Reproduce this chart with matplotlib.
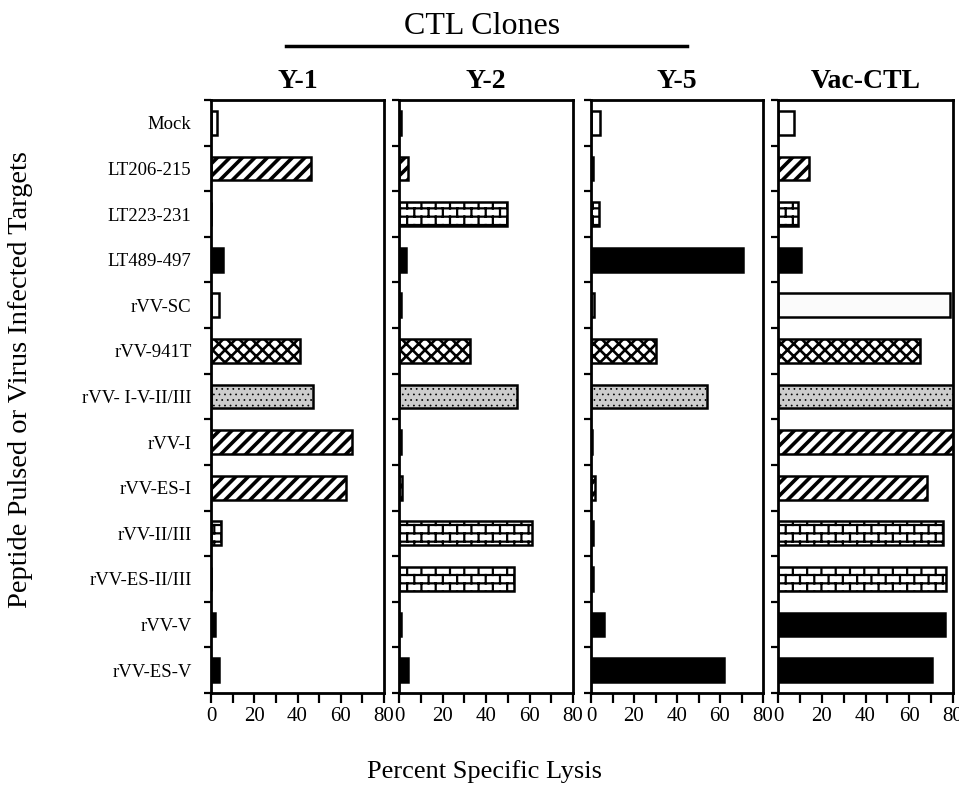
import warnings
warnings.filterwarnings("ignore")
import numpy as np
import matplotlib
matplotlib.use("Agg")
import matplotlib.pyplot as plt
import matplotlib.hatch as mhatch
from matplotlib.path import Path
from matplotlib.lines import Line2D

# ---------------- data ----------------
targets = ["Mock", "LT206-215", "LT223-231", "LT489-497", "rVV-SC", "rVV-941T",
           "rVV- I-V-II/III", "rVV-I", "rVV-ES-I", "rVV-II/III", "rVV-ES-II/III",
           "rVV-V", "rVV-ES-V"]
panels = ["Y-1", "Y-2", "Y-5", "Vac-CTL"]
lysis_y1 = [3, 46.3, 0, 5.5, 3.7, 41.2, 47, 65.3, 62.5, 4.5, 0, 1.8, 3.7]
lysis_y2 = [1, 4.3, 49.6, 3, 1, 32.7, 54.4, 1, 1.5, 61, 53, 1, 4]
lysis_y5 = [4.2, 1, 3.7, 70.5, 1.5, 30.2, 54, 0.5, 2, 1, 1, 6, 62]
lysis_vac = [7.5, 14.3, 9.3, 10.4, 78.5, 65, 82, 82, 68, 75.2, 76.7, 76.5, 70.4]
fill_kind = ["open", "diag", "brick", "solid", "stipple", "diamond", "gray",
             "diag", "diag", "brick", "brick", "solid", "solid"]
xtick_vals = [0, 10, 20, 30, 40, 50, 60, 70, 80]
xtick_labels = ["0", "", "20", "", "40", "", "60", "", "80"]


# ---------------- custom hatches ----------------
class BrickHatch(mhatch.HatchPatternBase):
    def __init__(self, hatch, density):
        n = hatch.count('b')
        self.segs = []
        if n:
            R, C = 12, 7
            for r in range(R + 1):
                self.segs.append(((0.0, r / R), (1.0, r / R)))
            for r in range(R):
                y0, y1 = r / R, (r + 1) / R
                if r % 2 == 0:
                    xs = [c / C for c in range(C + 1)]
                else:
                    xs = [(c + 0.5) / C for c in range(C)]
                for x in xs:
                    self.segs.append(((x, y0), (x, y1)))
        self.num_vertices = 2 * len(self.segs)

    def set_vertices_and_codes(self, vertices, codes):
        for i, (a, b) in enumerate(self.segs):
            vertices[2 * i] = a
            vertices[2 * i + 1] = b
            codes[2 * i] = Path.MOVETO
            codes[2 * i + 1] = Path.LINETO


class DiagHatch(mhatch.HatchPatternBase):
    char = 'd'
    sign = 1

    def __init__(self, hatch, density):
        self.num_lines = 16 if hatch.count(self.char) else 0
        self.num_vertices = (self.num_lines + 1) * 2 if self.num_lines else 0

    def set_vertices_and_codes(self, vertices, codes):
        steps = np.linspace(-0.5, 0.5, self.num_lines + 1)
        if self.sign > 0:
            vertices[0::2, 0] = 0.0 + steps
            vertices[0::2, 1] = 0.0 - steps
            vertices[1::2, 0] = 1.0 + steps
            vertices[1::2, 1] = 1.0 - steps
        else:
            vertices[0::2, 0] = 0.0 + steps
            vertices[0::2, 1] = 1.0 + steps
            vertices[1::2, 0] = 1.0 + steps
            vertices[1::2, 1] = 0.0 + steps
        codes[0::2] = Path.MOVETO
        codes[1::2] = Path.LINETO


class DiagHatchNW(DiagHatch):
    char = 'e'
    sign = -1


mhatch._hatch_types.extend([BrickHatch, DiagHatch, DiagHatchNW])

style_map = {
    "open":    dict(face="white", hatch=None, hlw=1.0),
    "diag":    dict(face="white", hatch="d", hlw=2.6),
    "brick":   dict(face="white", hatch="b", hlw=1.6),
    "solid":   dict(face="black", hatch=None, hlw=1.0),
    "stipple": dict(face="#fbfbfb", hatch=None, hlw=1.0),
    "diamond": dict(face="white", hatch="de", hlw=1.9),
    "gray":    dict(face="#cdcdcd", hatch="...", hlw=0.5),
}

# ---------------- figure ----------------
plt.rcParams['font.family'] = ['Liberation Serif', 'DejaVu Serif']
W, H = 959, 793
fig = plt.figure(figsize=(W / 100, H / 100), dpi=100)

lefts = [211, 399, 591, 778]
rights = [384, 573, 763, 953]
top_px, bot_px = 100, 693
data = [lysis_y1, lysis_y2, lysis_y5, lysis_vac]
ypos = np.arange(len(targets)) + 0.5

for k, (name, vals) in enumerate(zip(panels, data)):
    ax = fig.add_axes([lefts[k] / W, 1 - bot_px / H, (rights[k] - lefts[k]) / W,
                       (bot_px - top_px) / H])
    for i, (v, kind) in enumerate(zip(vals, fill_kind)):
        st = style_map[kind]
        with plt.rc_context({'hatch.linewidth': st['hlw'], 'hatch.color': 'black'}):
            bars = ax.barh(ypos[i], v, height=0.52, left=0, color=st['face'],
                           edgecolor='black', linewidth=1.8, hatch=st['hatch'])
        for b in bars:
            if hasattr(b, 'set_hatch_linewidth'):
                b.set_hatch_linewidth(st['hlw'])
    ax.set_xlim(0, 80)
    ax.set_ylim(len(targets), 0)
    for s in ax.spines.values():
        s.set_linewidth(2.0)
    ax.set_xticks(xtick_vals)
    ax.set_xticklabels(xtick_labels, fontsize=15)
    ax.tick_params(axis='x', direction='out', length=7, width=1.6, pad=3)
    ax.set_yticks(np.arange(len(targets) + 1))
    ax.set_yticklabels([])
    ax.tick_params(axis='y', which='major', direction='out', length=5, width=1.6)
    ax.set_yticks(ypos, minor=True)
    if k == 0:
        ax.set_yticklabels(targets, minor=True, fontsize=13.5)
    else:
        ax.set_yticklabels([], minor=True)
    ax.tick_params(axis='y', which='minor', length=0, pad=14)
    ax.set_title(name, fontsize=20, fontweight='bold', pad=9)

fig.text(482 / W, 1 - 26 / H, "CTL Clones", ha='center', va='center', fontsize=23)
fig.add_artist(Line2D([286 / W, 687 / W], [1 - 46 / H, 1 - 46 / H], lw=2.5,
                      color='black', transform=fig.transFigure))
fig.text(484 / W, 1 - 772 / H, "Percent Specific Lysis", ha='center', va='center',
         fontsize=19)
fig.text(21 / W, 1 - 380 / H, "Peptide Pulsed or Virus Infected Targets",
         ha='center', va='center', rotation=90, fontsize=20.5)

fig.savefig("out.png", dpi=100)
